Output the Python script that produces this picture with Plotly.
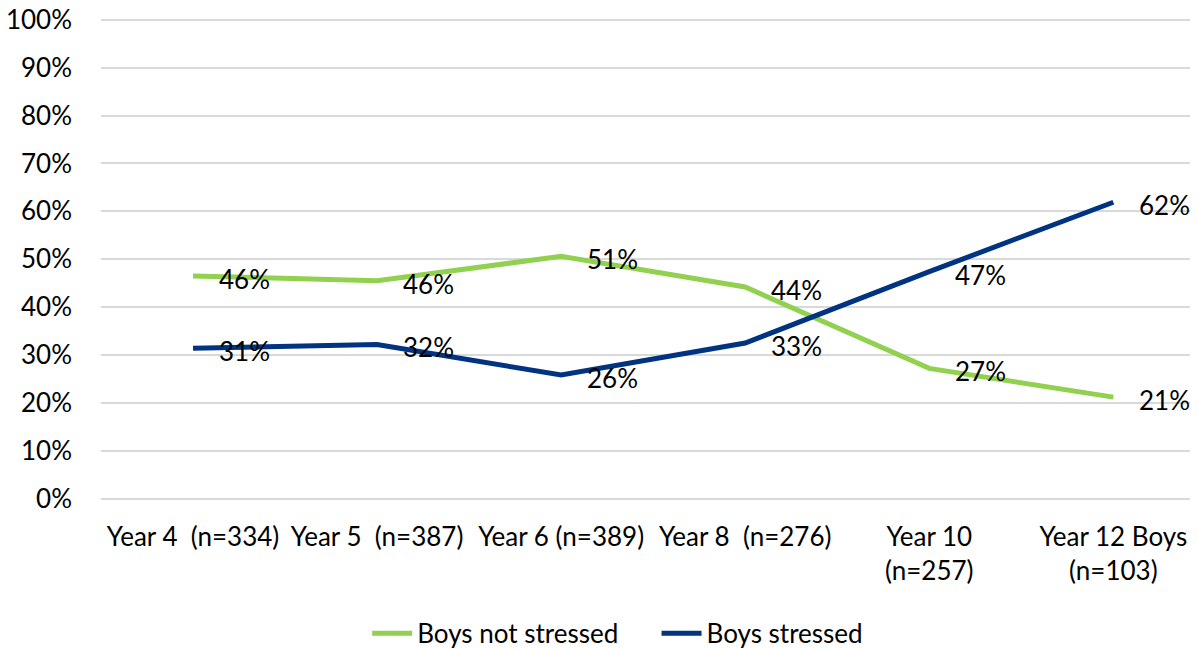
import plotly.graph_objects as go

categories = ["Year 4  (n=334)", "Year 5  (n=387)", "Year 6 (n=389)", "Year 8  (n=276)",
              "Year 10<br>(n=257)", "Year 12 Boys<br>(n=103)"]
not_stressed = [46.5, 45.5, 50.6, 44.2, 27.2, 21.2]
stressed = [31.4, 32.2, 25.8, 32.5, 47.4, 61.9]
not_labels = ["46%", "46%", "51%", "44%", "27%", "21%"]
str_labels = ["31%", "32%", "26%", "33%", "47%", "62%"]
y_ticks = [0, 10, 20, 30, 40, 50, 60, 70, 80, 90, 100]
series_names = ["Boys not stressed", "Boys stressed"]

GREEN = "#92D050"
NAVY = "#003380"
FONT = "Lato"
FS = 26
NBSP = "\u00a0"

fig = go.Figure()
fig.add_trace(go.Scatter(x=list(range(len(categories))), y=not_stressed, mode="lines",
                         name=series_names[0] + NBSP * 5, line=dict(color=GREEN, width=5)))
fig.add_trace(go.Scatter(x=list(range(len(categories))), y=stressed, mode="lines",
                         name=series_names[1], line=dict(color=NAVY, width=5)))

for vals, labs in ((not_stressed, not_labels), (stressed, str_labels)):
    for i, (v, t) in enumerate(zip(vals, labs)):
        fig.add_annotation(x=i, y=v, text=t, showarrow=False, xanchor="left",
                           xshift=24, yshift=-3, font=dict(family=FONT, size=FS, color="#000000"))

fig.update_layout(
    width=1190, height=641,
    margin=dict(l=93, r=0, t=6.5, b=148, autoexpand=False),
    paper_bgcolor="white", plot_bgcolor="white",
    font=dict(family=FONT, size=FS, color="#000000"),
    showlegend=True,
    legend=dict(orientation="h", x=0.471, xanchor="center", y=-0.224, yanchor="top",
                font=dict(family=FONT, size=FS), itemwidth=40, tracegroupgap=0),
    xaxis=dict(tickmode="array", tickvals=list(range(len(categories))), ticktext=categories,
               range=[-0.5, 5.46], showgrid=False, zeroline=False, showline=False,
               automargin=False, ticklabeloverflow="allow",
               ticklabelstandoff=18, tickfont=dict(family=FONT, size=FS)),
    yaxis=dict(range=[-0.5, 101], tickvals=y_ticks, ticktext=[f"{t}%" for t in y_ticks],
               showgrid=True, gridcolor="#D9D9D9", gridwidth=1.5, zeroline=False,
               showline=False, automargin=False, ticklabeloverflow="allow",
               ticklabelstandoff=28, tickfont=dict(family=FONT, size=FS)),
)

fig.write_html("out.html")
